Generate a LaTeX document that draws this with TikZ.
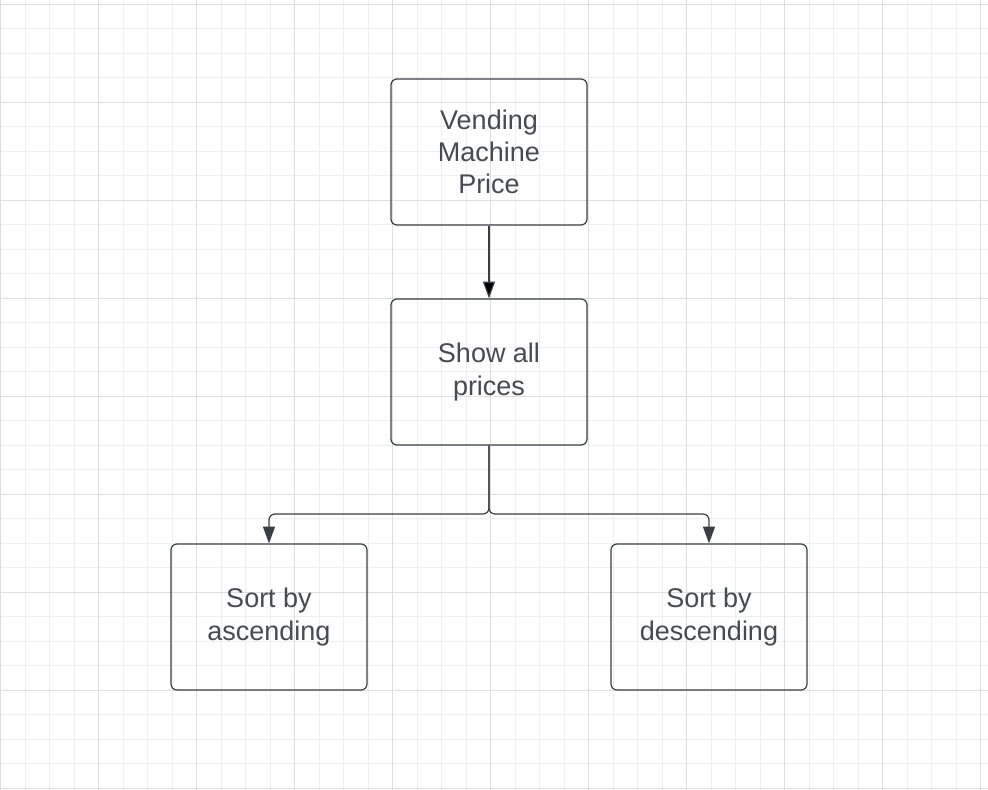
\documentclass[tikz,border=0pt]{standalone}
\usepackage{fontspec}
\setmainfont{Liberation Sans}
\usetikzlibrary{arrows.meta}

\definecolor{ink}{HTML}{3A3F47}
\definecolor{label}{HTML}{454B53}
\definecolor{minorgrid}{HTML}{EFEFEF}
\definecolor{majorgrid}{HTML}{DEDEDE}

\tikzset{
  box/.style={shape=rectangle,draw=ink,line width=0.85pt,rounded corners=0.15cm,
    minimum width=4.9cm,minimum height=3.65cm,align=center,text=label,
    font=\fontsize{19.2}{23}\selectfont},
  link/.style={draw=ink,line width=0.85pt}
}

\begin{document}
\begin{tikzpicture}[>={Triangle[length=0.42cm,width=0.3cm]}]
    \useasboundingbox (0,0) rectangle (24.7,-19.75);
    \fill[white] (0,0) rectangle (24.7,-19.75);
    \begin{scope}
        \clip (0,0) rectangle (24.7,-19.75);
        \draw[minorgrid,line width=0.6pt,shift={(0.0175,-0.1075)}] (-2.45,-22.05) grid[step=0.6125] (26.95,2.45);
        \draw[majorgrid,line width=0.7pt,shift={(0.0175,-0.1075)}] (-2.45,-22.05) grid[step=2.45] (26.95,2.45);
    \end{scope}
    \node[box] (price) at (12.225,-3.8) {Vending\\Machine\\Price};
    \node[box] (show) at (12.225,-9.3) {Show all\\prices};
    \node[box] (asc) at (6.725,-15.425) {Sort by\\ascending};
    \node[box] (desc) at (17.725,-15.425) {Sort by\\descending};
    \coordinate (split) at (12.225,-12.85);
    \path[link,->] (price) edge node {} (show);
    \draw[link,->,rounded corners=0.15cm] (show.south) -- (split) -| (asc.north);
    \draw[link,->,rounded corners=0.15cm] (show.south) -- (split) -| (desc.north);
\end{tikzpicture}
\end{document}
